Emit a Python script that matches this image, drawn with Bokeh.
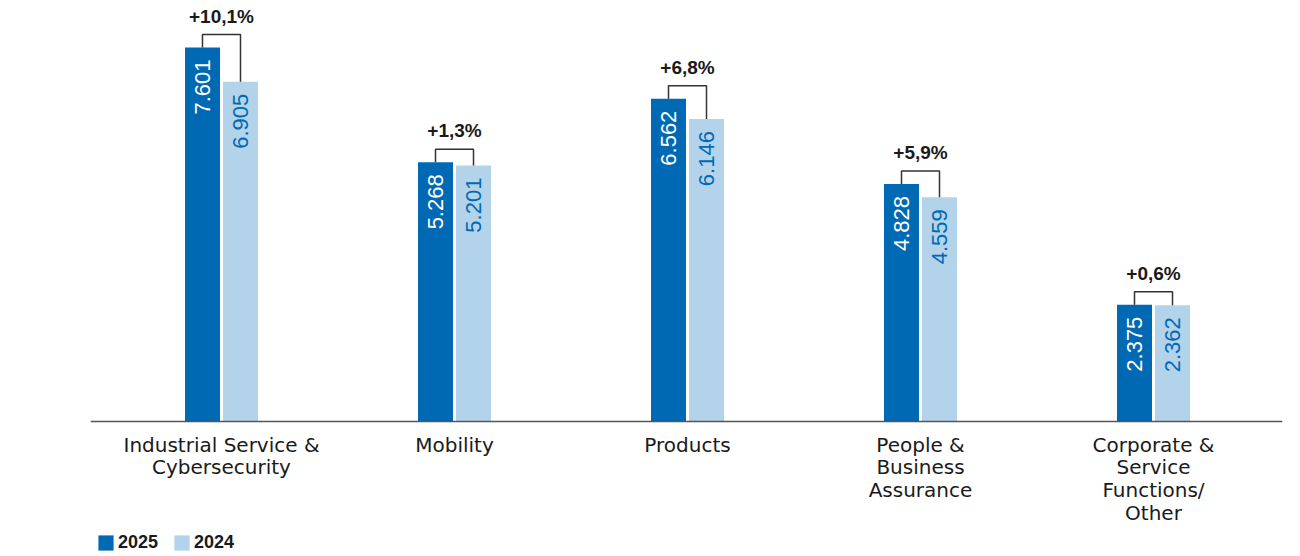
import numpy as np
from bokeh.plotting import figure
from bokeh.models import ColumnDataSource, Legend, LegendItem, Range1d, Span
from bokeh.embed import file_html
from bokeh.resources import INLINE
from bokeh.core.properties import value

categories = ["Industrial Service &\nCybersecurity", "Mobility", "Products",
              "People &\nBusiness\nAssurance", "Corporate &\nService\nFunctions/\nOther"]
values_2025 = [7.601, 5.268, 6.562, 4.828, 2.375]
values_2024 = [6.905, 5.201, 6.146, 4.559, 2.362]
labels_2025 = ["7.601", "5.268", "6.562", "4.828", "2.375"]
labels_2024 = ["6.905", "5.201", "6.146", "4.559", "2.362"]
changes = ["+10,1%", "+1,3%", "+6,8%", "+5,9%", "+0,6%"]
series = ["2025", "2024"]

DARK = "#0069B4"
LIGHT = "#B3D3EA"
TEXT = "#1a1a1a"
FONT = "Liberation Sans"
LABEL_FONT = "DejaVu Sans"

PX_X = 233.0
PX_Y = 49.2
FRAME_W, FRAME_H = 1192, 546
BASE_PX = 413  # baseline distance from frame top
x_start = -131 / PX_X
x_end = x_start + FRAME_W / PX_X
y_end = BASE_PX / PX_Y
y_start = -(FRAME_H - BASE_PX) / PX_Y
off = 19 / PX_X
bw = 35 / PX_X

idx = np.arange(len(categories))
tops = [max(a, b) + 13 / PX_Y for a, b in zip(values_2025, values_2024)]
src = ColumnDataSource(dict(
    x25=idx - off, x24=idx + off, xc=idx, base=[0] * len(idx),
    cat=categories,
    v25=values_2025, v24=values_2024,
    l25=labels_2025, l24=labels_2024,
    ch=changes, top=tops,
    bx=[[i - off, i - off, i + off, i + off] for i in idx],
    by=[[a, t, t, b] for a, b, t in zip(values_2025, values_2024, tops)],
))

p = figure(frame_width=FRAME_W, frame_height=FRAME_H, output_backend="svg",
           toolbar_location=None, x_range=Range1d(x_start, x_end),
           y_range=Range1d(y_start, y_end), min_border_left=90, min_border_right=10,
           min_border_top=8, min_border_bottom=0)
p.outline_line_color = None
p.grid.visible = False
p.xaxis.visible = False
p.yaxis.visible = False

r25 = p.vbar(x="x25", top="v25", width=bw, source=src, fill_color=DARK, line_color=None)
r24 = p.vbar(x="x24", top="v24", width=bw, source=src, fill_color=LIGHT, line_color=None)

p.add_layout(Span(location=0, dimension="width", line_color="#555555", line_width=1.5))

p.text(x="xc", y="base", text="cat", source=src, text_align="center",
       text_baseline="top", y_offset=11, text_color=TEXT,
       text_font=value(LABEL_FONT), text_font_size="20px", text_line_height=0.95)

p.text(x="x25", y="v25", text="l25", source=src, angle=np.pi / 2, text_align="right",
       text_baseline="middle", y_offset=12, text_color="white",
       text_font=value(FONT), text_font_size="22px")
p.text(x="x24", y="v24", text="l24", source=src, angle=np.pi / 2, text_align="right",
       text_baseline="middle", y_offset=12, text_color=DARK,
       text_font=value(FONT), text_font_size="22px")

p.multi_line(xs="bx", ys="by", source=src, line_color="#333333", line_width=1.5)
p.text(x="xc", y="top", text="ch", source=src, text_align="center",
       text_baseline="bottom", y_offset=-8, text_color=TEXT,
       text_font=value(FONT), text_font_size="19px", text_font_style="bold")

legend = Legend(items=[LegendItem(label=series[0], renderers=[r25]),
                       LegendItem(label=series[1], renderers=[r24])],
                orientation="horizontal", location=(6, 1),
                glyph_width=19, glyph_height=19, label_standoff=3, spacing=14,
                padding=0, margin=0, border_line_color=None,
                background_fill_alpha=0, label_height=19,
                label_text_font=FONT, label_text_font_size="18px",
                label_text_font_style="bold", label_text_color=TEXT)
p.add_layout(legend, "center")

open("out.html", "w").write(file_html(p, INLINE))
